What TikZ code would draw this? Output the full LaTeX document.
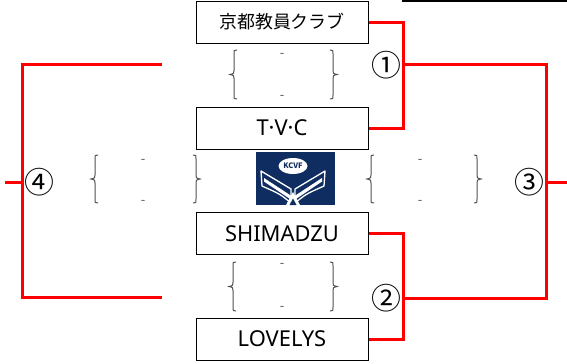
\documentclass[tikz,border=0pt]{standalone}
\usepackage{fontspec}
\setmainfont{Noto Sans CJK JP}
\newfontfamily\latinf{Noto Sans}
\usetikzlibrary{shapes.geometric}
\definecolor{navy}{RGB}{16,45,98}
\definecolor{brgray}{RGB}{80,80,80}
\newcommand\mylbrace[3]{%
\draw[brc] ({#1+7},#2) .. controls ({#1+4},#2) .. ({#1+4},{#2+4}) -- ({#1+4},{(#2+#3)/2-4}) .. controls ({#1+4},{(#2+#3)/2-1}) .. ({#1},{(#2+#3)/2}) .. controls ({#1+4},{(#2+#3)/2+1}) .. ({#1+4},{(#2+#3)/2+4}) -- ({#1+4},{#3-4}) .. controls ({#1+4},#3) .. ({#1+7},#3);}
\newcommand\myrbrace[3]{%
\draw[brc] ({#1-7},#2) .. controls ({#1-4},#2) .. ({#1-4},{#2+4}) -- ({#1-4},{(#2+#3)/2-4}) .. controls ({#1-4},{(#2+#3)/2-1}) .. ({#1},{(#2+#3)/2}) .. controls ({#1-4},{(#2+#3)/2+1}) .. ({#1-4},{(#2+#3)/2+4}) -- ({#1-4},{#3-4}) .. controls ({#1-4},#3) .. ({#1-7},#3);}
\begin{document}
\begin{tikzpicture}[x=1bp,y=-1bp,
  team/.style={draw=black,line width=1bp,minimum width=172bp,minimum height=42bp,inner sep=0pt,font=\latinf\fontsize{22}{22}\selectfont},
  redline/.style={draw=red,line width=3bp,line join=miter},
  circnum/.style={inner sep=0pt,font=\fontsize{30}{30}\selectfont},
  dashmark/.style={inner sep=0pt,text=brgray,font=\fontsize{13}{13}\selectfont},
  brc/.style={draw=brgray,line width=1bp}]
\useasboundingbox (0,0) rectangle (567,363);
% teams
\node[team,font=\fontsize{18}{18}\selectfont] (b1) at (282,22) {京都教員クラブ};
\node[team] (b2) at (282,128) {T·V·C};
\node[team] (b3) at (282,233.5) {SHIMADZU};
\node[team] (b4) at (282,339) {LOVELYS};
% numbers
\node[circnum] (n1) at (386,65) {①};
\node[circnum] (n2) at (386,298) {②};
\node[circnum] (n3) at (529,182) {③};
\node[circnum] (n4) at (39,182) {④};
% top line
\coordinate (tl1) at (402,1);
\coordinate (tl2) at (567,1);
\draw[line width=2bp] (tl1) -- (tl2);
% right bracket lines
\coordinate (m1) at (403,64);
\coordinate (m2) at (403,298);
\coordinate (r1) at (546,64);
\coordinate (r2) at (546,298);
\coordinate (rout) at (567,182);
\draw[redline] (b1.east) -| (m1) |- (b2.east);
\draw[redline] (b3.east) -| (m2) |- (b4.east);
\draw[redline] (m1) -- (r1) -- (r2) -- (m2);
\draw[redline] (r1 |- rout) -- (rout);
% left bracket lines
\coordinate (l1) at (162,64);
\coordinate (l2) at (162,297);
\coordinate (la) at (22,64);
\coordinate (lb) at (22,297);
\coordinate (lout) at (5,182);
\draw[redline] (l1) -- (la) -- (lb) -- (l2);
\draw[redline] (lout) -- (la |- lout);
% braces
\mylbrace{230}{50}{99}\myrbrace{337}{50}{99}
\mylbrace{91}{155}{203}\myrbrace{200}{155}{203}
\mylbrace{367}{155}{203}\myrbrace{481}{155}{203}
\mylbrace{229}{262}{311}\myrbrace{337}{262}{311}
% dashes
\node[dashmark] (d1) at (282,55) {-};
\node[dashmark] (d2) at (282,97) {-};
\node[dashmark] (d3) at (143,161) {-};
\node[dashmark] (d4) at (143,202) {-};
\node[dashmark] (d5) at (420,161) {-};
\node[dashmark] (d6) at (420,202) {-};
\node[dashmark] (d7) at (282,265) {-};
\node[dashmark] (d8) at (282,308) {-};
% logo
\fill[navy] (256,152) rectangle (335,205);
\draw[white,line width=1.3bp,line join=round] (261,171) -- (291,189) -- (291,203) .. controls (280,194) .. (262,186) -- cycle;
\draw[white,line width=1.3bp,line join=round] (325,171) -- (295,189) -- (295,203) .. controls (306,194) .. (324,186) -- cycle;
\fill[white] (264,178) -- (293,197) -- (322,178) -- (322,181.5) -- (293,201) -- (264,181.5) -- cycle;
\fill[white] (286,205) -- (293,192) -- (300,205) -- cycle;
\fill[navy] (289.5,205) -- (293,198.5) -- (296.5,205) -- cycle;
\node[ellipse,fill=white,minimum width=29bp,minimum height=16bp,inner sep=0pt] (logo) at (293,166) {};
\node[inner sep=0pt,text=navy,font=\fontsize{7.5}{7.5}\selectfont\bfseries] (logot) at (293,166) {KCVF};
\end{tikzpicture}
\end{document}
